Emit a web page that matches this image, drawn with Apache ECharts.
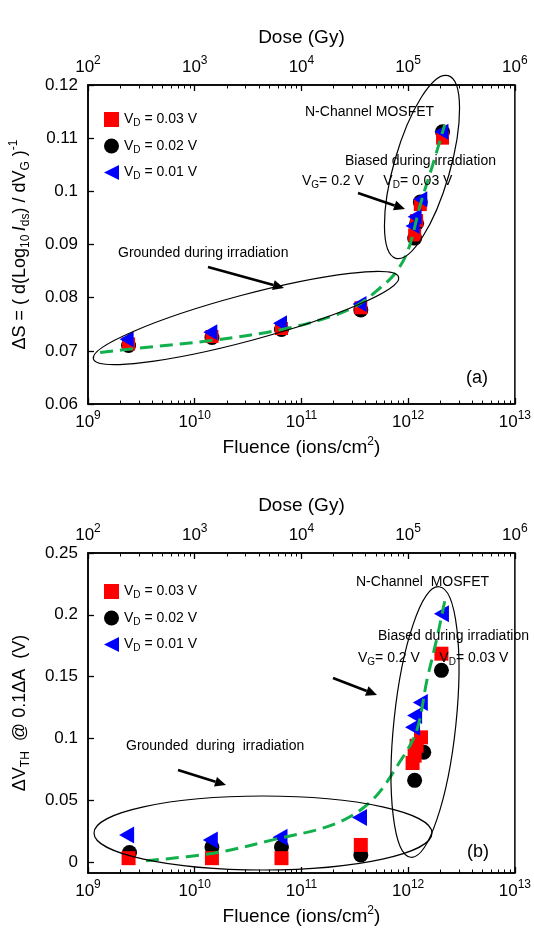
<!DOCTYPE html>
<html><head><meta charset="utf-8">
<script src="https://cdn.jsdelivr.net/npm/echarts@6/dist/echarts.min.js"></script>
<style>html,body{margin:0;padding:0;background:#fff}#c{width:534px;height:939px}</style>
</head><body><div id="c"></div>
<script>
// ---------- DATA ----------
const seriesNames = ['VD = 0.03 V', 'VD = 0.02 V', 'VD = 0.01 V'];
// (a) subthreshold swing vs fluence  [fluence, ΔS]
const a_vd003 = [[2.4e9,0.0713],[1.45e10,0.0727],[6.5e10,0.0742],[3.6e11,0.0781],[1.15e12,0.0918],[1.2e12,0.0945],[1.3e12,0.0975],[2.1e12,0.1100]];
const a_vd002 = [[2.4e9,0.0710],[1.45e10,0.0725],[6.5e10,0.0740],[3.6e11,0.0777],[1.15e12,0.0912],[1.2e12,0.0940],[1.3e12,0.0980],[2.1e12,0.1112]];
const a_vd001 = [[2.3e9,0.0722],[1.4e10,0.0735],[6.3e10,0.0752],[3.5e11,0.0788],[1.1e12,0.0935],[1.15e12,0.0952],[1.3e12,0.0985],[2.05e12,0.1112]];
const a_fit   = [[1.3e9,0.0697],[3e9,0.0705],[1.5e10,0.0720],[6.5e10,0.0740],[2e11,0.0766],[3.5e11,0.0788],[5e11,0.0812],[7.5e11,0.0845],[1e12,0.0890],[1.3e12,0.0975],[1.7e12,0.1050],[2.2e12,0.1125]];
// (b) threshold voltage shift vs fluence  [fluence, ΔVth]
const b_vd003 = [[2.4e9,0.003],[1.45e10,0.003],[6.5e10,0.003],[3.6e11,0.0137],[1.1e12,0.080],[1.15e12,0.086],[1.2e12,0.094],[1.32e12,0.1008],[2.05e12,0.1685]];
const b_vd002 = [[2.45e9,0.0075],[1.45e10,0.012],[6.5e10,0.012],[3.6e11,0.0056],[1.15e12,0.066],[1.4e12,0.0887],[2.05e12,0.155]];
const b_vd001 = [[2.3e9,0.0218],[1.4e10,0.0177],[6.3e10,0.020],[3.5e11,0.036],[1.1e12,0.109],[1.15e12,0.1185],[1.3e12,0.129],[2.05e12,0.2008]];
const b_fit   = [[3.5e9,0.001],[1.5e10,0.007],[5.5e10,0.018],[2.1e11,0.031],[4.6e11,0.050],[8.5e11,0.082],[1.2e12,0.106],[1.5e12,0.147],[1.86e12,0.181],[2.2e12,0.211]];
// axis ranges / ticks
const fluenceRange = [1e9, 1e13];
const doseRange = [1e2, 1e6];
const aYTicks = [0.06, 0.12, 0.01];
const bYTicks = [0, 0.05, 0.1, 0.15, 0.2, 0.25];

// ---------- HELPERS ----------
const FONT = 'Liberation Sans, Arial, sans-serif';
function minorLogTicks(lo, hi) {
  const out = [];
  for (let e = lo; e < hi; e++) for (let m = 2; m <= 9; m++) out.push(e + Math.log10(m));
  return out;
}
const expFmt = v => '{b|10}{s|' + Math.round(Math.log10(v)) + '}';
const expRich = {
  b: {fontSize: 17, fontFamily: FONT, color: '#000', lineHeight: 24},
  s: {fontSize: 12, fontFamily: FONT, color: '#000', verticalAlign: 'top', lineHeight: 12}
};
const black = {onZero: false, lineStyle: {color: '#000', width: 1.5}};

function logX(grid, pos, range, name, gap) {
  return {
    gridIndex: grid, type: 'log', logBase: 10, position: pos, min: range[0], max: range[1],
    axisLine: {show: true, onZero: false, lineStyle: {color: '#000', width: 1.5}},
    axisTick: {inside: true, length: 6, lineStyle: {color: '#000', width: 1.3}},
    axisLabel: {formatter: expFmt, rich: expRich, margin: 6},
    splitLine: {show: false},
    name: name, nameLocation: 'middle', nameGap: gap,
    nameTextStyle: {fontSize: 19, fontFamily: FONT, color: '#000', rich: {
      t: {fontSize: 19, fontFamily: FONT, color: '#000', lineHeight: 24},
      s: {fontSize: 12, fontFamily: FONT, color: '#000', verticalAlign: 'top', lineHeight: 12}}}
  };
}
function minorX(grid, pos, lo, hi) {
  return {
    gridIndex: grid, type: 'value', position: pos, min: lo, max: hi,
    axisLine: {show: false, onZero: false}, splitLine: {show: false},
    axisLabel: {show: false},
    axisTick: {show: true, inside: true, length: 3.5, customValues: minorLogTicks(lo, hi), lineStyle: {color: '#000', width: 1}}
  };
}
const TRI = 'path://M0,50 L100,0 L100,100 Z';
function scat(name, data, xi, yi, color, symbol, size) {
  return {name, type: 'scatter', xAxisIndex: xi, yAxisIndex: yi, data,
    symbol, symbolSize: size, itemStyle: {color, opacity: 1}, z: 3};
}
function fitLine(data, xi, yi) {
  return {name: 'fit', type: 'line', xAxisIndex: xi, yAxisIndex: yi, data, smooth: 0.35,
    showSymbol: false, symbol: 'none', z: 5,
    lineStyle: {color: '#12b04c', width: 3, type: [13, 7]}};
}
function legendAt(top) {
  return {
    data: seriesNames, orient: 'vertical', left: 99, top: top, itemGap: 10,
    itemWidth: 15, itemHeight: 15, selectedMode: false,
    formatter: n => '{t|V}{s|D}{t|' + n.slice(2) + '}',
    textStyle: {rich: {
      t: {fontSize: 14, fontFamily: FONT, color: '#000', lineHeight: 18},
      s: {fontSize: 10, fontFamily: FONT, color: '#000', verticalAlign: 'bottom', lineHeight: 10}}}
  };
}
const ellipse = (x, y, rx, ry, deg) => ({type: 'ellipse', x, y, rotation: deg * Math.PI / 180,
  shape: {cx: 0, cy: 0, rx, ry}, style: {fill: 'none', stroke: '#000', lineWidth: 1.2}, z: 10});
function arrow(x1, y1, x2, y2) {
  const ang = Math.atan2(y2 - y1, x2 - x1), L = 11, W = 5;
  const bx = x2 - L * Math.cos(ang), by = y2 - L * Math.sin(ang);
  const px = -Math.sin(ang) * W, py = Math.cos(ang) * W;
  return [
    {type: 'line', shape: {x1, y1, x2: bx, y2: by}, style: {stroke: '#000', lineWidth: 2.6}, z: 10},
    {type: 'polygon', shape: {points: [[x2, y2], [bx + px, by + py], [bx - px, by - py]]}, style: {fill: '#000'}, z: 10}
  ];
}
const txtRich = {
  t: {fontSize: 14, fontFamily: FONT, color: '#000', lineHeight: 18},
  s: {fontSize: 10, fontFamily: FONT, color: '#000', verticalAlign: 'bottom', lineHeight: 10}
};
const text = (x, y, t, fs) => ({type: 'text', x, y, z: 10,
  style: {text: t, fontSize: fs || 14, fontFamily: FONT, fill: '#000', verticalAlign: 'middle', rich: txtRich}});

// ---------- CHART ----------
const chart = echarts.init(document.getElementById('c'), null, {renderer: 'canvas'});
const gridStyle = {show: true, borderColor: '#000', borderWidth: 1.5, backgroundColor: 'transparent'};
const fluName = '{t|Fluence (ions/cm}{s|2}{t|)}';
chart.setOption({
  animation: false,
  backgroundColor: '#fff',
  grid: [
    Object.assign({left: 88, width: 427, top: 85, height: 319}, gridStyle),
    Object.assign({left: 88, width: 427, top: 553, height: 320}, gridStyle)
  ],
  xAxis: [
    logX(0, 'bottom', fluenceRange, fluName, 32),
    logX(0, 'top', doseRange, 'Dose (Gy)', 38),
    minorX(0, 'bottom', 9, 13),
    minorX(0, 'top', 2, 6),
    logX(1, 'bottom', fluenceRange, fluName, 32),
    logX(1, 'top', doseRange, 'Dose (Gy)', 38),
    minorX(1, 'bottom', 9, 13),
    minorX(1, 'top', 2, 6)
  ],
  yAxis: [
    {gridIndex: 0, type: 'value', min: aYTicks[0], max: aYTicks[1], interval: aYTicks[2],
     axisLine: black, axisTick: {inside: true, length: 6, lineStyle: {color: '#000', width: 1.3}},
     axisLabel: {fontSize: 17, fontFamily: FONT, color: '#000', margin: 10}, splitLine: {show: false},
     name: '{t|ΔS = ( d(Log}{s|10} {i|I}{s|ds}{t|) / dV}{s|G}{t| )}{p|-1}', nameLocation: 'middle', nameGap: 56, nameRotate: 90,
     nameTextStyle: {rich: {
       t: {fontSize: 18, fontFamily: FONT, color: '#000', lineHeight: 24},
       i: {fontSize: 18, fontFamily: FONT, color: '#000', fontStyle: 'italic', lineHeight: 24},
       s: {fontSize: 12, fontFamily: FONT, color: '#000', verticalAlign: 'bottom', lineHeight: 12},
       p: {fontSize: 12, fontFamily: FONT, color: '#000', verticalAlign: 'top', lineHeight: 12}}}},
    {gridIndex: 1, type: 'value', min: -0.009, max: 0.25,
     axisLine: black, axisTick: {inside: true, length: 6, customValues: bYTicks, lineStyle: {color: '#000', width: 1.3}},
     axisLabel: {fontSize: 17, fontFamily: FONT, color: '#000', margin: 10, customValues: bYTicks}, splitLine: {show: false},
     name: '{t|ΔV}{s|TH}{t|  @ 0.1ΔA  (V)}', nameLocation: 'middle', nameGap: 56, nameRotate: 90,
     nameTextStyle: {rich: {
       t: {fontSize: 18, fontFamily: FONT, color: '#000', lineHeight: 24},
       s: {fontSize: 12, fontFamily: FONT, color: '#000', verticalAlign: 'bottom', lineHeight: 12}}}}
  ],
  legend: [legendAt(107), legendAt(579)],
  series: [
    scat(seriesNames[1], a_vd002, 0, 0, '#000000', 'circle', 15),
    scat(seriesNames[0], a_vd003, 0, 0, '#ff0000', 'rect', 13),
    scat(seriesNames[2], a_vd001, 0, 0, '#0000ff', TRI, [14, 16]),
    fitLine(a_fit, 0, 0),
    scat(seriesNames[1], b_vd002, 4, 1, '#000000', 'circle', 15),
    scat(seriesNames[0], b_vd003, 4, 1, '#ff0000', 'rect', 14),
    scat(seriesNames[2], b_vd001, 4, 1, '#0000ff', TRI, [15, 17]),
    fitLine(b_fit, 4, 1)
  ],
  graphic: [
    ellipse(246, 318, 158, 23, 15),
    ellipse(422, 167, 28, 95, -16),
    ellipse(263, 833, 169, 37, 0),
    ellipse(425, 722, 31, 136, -6),
    ...arrow(208, 267, 284, 288),
    ...arrow(358, 193, 405, 209),
    ...arrow(178, 770, 226, 785),
    ...arrow(333, 678, 377, 695),
    text(305, 112, 'N-Channel MOSFET'),
    text(345, 161, 'Biased during irradiation'),
    text(302, 181, '{t|V}{s|G}{t|= 0.2 V     V}{s|D}{t|= 0.03 V}'),
    text(118, 253, 'Grounded during irradiation'),
    text(466, 378, '(a)', 18),
    text(356, 582, 'N-Channel  MOSFET'),
    text(378, 636, 'Biased during irradiation'),
    text(358, 658, '{t|V}{s|G}{t|= 0.2 V     V}{s|D}{t|= 0.03 V}'),
    text(126, 746, 'Grounded  during  irradiation'),
    text(467, 852, '(b)', 18)
  ]
});
</script></body></html>
